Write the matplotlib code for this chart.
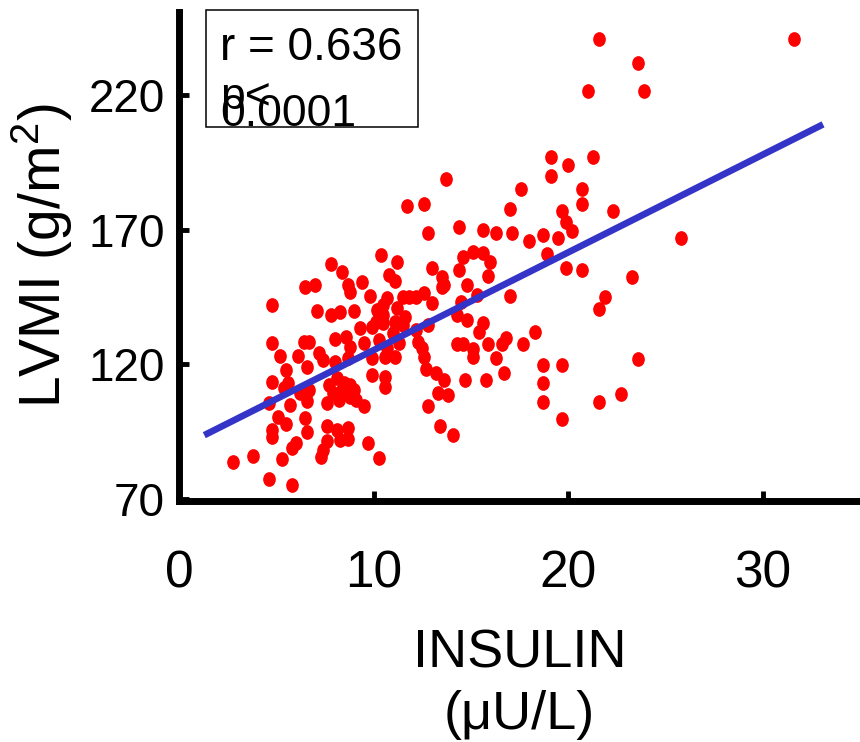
import numpy as np
import matplotlib
matplotlib.use("Agg")
import matplotlib.pyplot as plt
from matplotlib.markers import MarkerStyle
from matplotlib.transforms import Affine2D
from matplotlib.patches import Rectangle

plt.rcParams['font.family'] = ['Liberation Sans', 'DejaVu Sans']
plt.rcParams['mathtext.fontset'] = 'custom'
plt.rcParams['mathtext.rm'] = 'Liberation Sans'
plt.rcParams['mathtext.it'] = 'Liberation Sans:italic'

# ---------------------------------------------------------------
# data
insulin = [21.6, 23.6, 21.0, 23.9, 31.6, 19.1, 20.0, 21.3, 19.1, 17.6,
           20.7, 20.7, 17.0, 19.7, 22.3, 19.9, 20.2, 19.5, 18.7, 18.0,
           18.9, 25.8, 16.3, 17.1, 15.6, 16.0, 15.9, 19.9, 20.7, 23.3,
           21.9, 21.6, 17.0, 15.6, 15.1, 14.6, 13.7, 11.7, 12.6, 12.8,
           14.4, 10.4, 11.2, 7.8, 8.4, 6.5, 7.0, 8.7, 9.4, 10.8,
           11.1, 4.8, 7.1, 7.8, 8.3, 9.0, 9.8, 8.8, 10.2, 10.7,
           11.5, 12.2, 12.6, 13.0, 13.5, 13.6, 14.4, 14.8, 15.3, 14.3,
           14.8, 15.6, 11.8, 10.5, 11.2, 11.6, 10.5, 11.5, 13.0, 14.5,
           13.5, 4.8, 6.4, 6.7, 8.0, 8.6, 9.3, 9.9, 10.5, 8.8,
           9.5, 11.0, 11.3, 5.2, 6.1, 7.2, 7.4, 6.6, 8.0, 8.7,
           9.9, 10.6, 11.1, 5.5, 4.8, 5.4, 5.6, 6.2, 6.7, 7.7,
           8.1, 8.5, 8.8, 9.9, 10.6, 10.6, 4.6, 5.7, 6.6, 7.6,
           8.2, 8.8, 9.1, 9.5, 7.9, 5.1, 5.5, 6.5, 4.8, 6.6,
           4.8, 7.6, 8.1, 8.7, 8.7, 8.3, 7.6, 6.0, 5.8, 7.4,
           7.3, 5.3, 9.7, 10.3, 2.8, 3.8, 4.6, 5.8, 12.8, 15.4,
           12.2, 12.3, 12.5, 12.6, 14.3, 14.6, 15.1, 15.1, 15.9, 16.6,
           16.8, 16.3, 17.7, 18.3, 12.7, 13.2, 13.6, 14.7, 15.8, 16.7,
           18.7, 19.7, 18.7, 18.7, 19.7, 21.6, 22.7, 23.6, 13.3, 13.8,
           12.8, 13.4, 14.1, 9.0, 8.4, 11.1, 10.1, 10.3, 10.7]

lvmi = [241, 232, 221.5, 221.5, 241, 197, 194, 197, 190, 185,
        185, 179.5, 177.6, 177, 177, 173, 169.4, 167, 168, 165.7,
        161, 167, 168.7, 168.7, 169.8, 158, 152.7, 155.7, 155, 152.3,
        145, 140.4, 145.3, 161.3, 161.6, 159.8, 188.8, 178.7, 179.5, 168.7,
        171, 160.5, 158, 157.2, 154.2, 148.6, 149.4, 149.4, 150.5, 153,
        151, 142, 139.7, 138.2, 139.3, 139.7, 145.3, 146.8, 140.1, 144.5,
        145, 145, 146.4, 155.7, 152.3, 149.4, 155, 149.4, 145.6, 138.2,
        136.4, 135.2, 145, 142, 140.8, 137.5, 138.2, 134.5, 142.7, 143,
        148.6, 127.8, 128.2, 128.2, 129.3, 130, 133.4, 133.8, 135.2, 126.3,
        127.8, 131.5, 127.8, 123, 123, 124.1, 121.5, 118.9, 120.7, 122.2,
        122.2, 122.6, 122.6, 117.8, 113.3, 111.1, 112.9, 109.2, 110.3, 112.2,
        114.8, 112.9, 112.2, 115.9, 115.2, 111.4, 105.5, 104.8, 106.2, 105.5,
        106.6, 107.7, 106.6, 104.4, 109.2, 100.3, 97.7, 99.9, 95.5, 94.7,
        92.9, 97, 95.5, 96.2, 92.1, 91.7, 91.4, 90.6, 88.8, 88,
        85.4, 84.7, 90.6, 85.1, 83.6, 85.8, 77.2, 75, 134.5, 131.9,
        132.6, 128.2, 125.9, 122.6, 127.4, 127.4, 125.6, 122.6, 127.4, 127.4,
        129.7, 122.2, 127.4, 131.9, 118.1, 116.7, 114.1, 114.1, 114.1, 116.7,
        119.6, 119.6, 112.9, 105.9, 99.6, 105.9, 108.8, 121.9, 109.2, 108.5,
        104.4, 97, 93.6, 110.3, 110.3, 135.6, 135.6, 129, 126]

# regression line end points
fit_x = [1.3, 33.1]
fit_y = [93.6, 209.2]

xticks = [0, 10, 20, 30]
yticks = [70, 120, 170, 220]

# ---------------------------------------------------------------
fig = plt.figure(figsize=(8.6, 7.42), dpi=100)
ax = fig.add_axes([179/860, 1 - 500.5/742, 681/860, 488.5/742])

dot = MarkerStyle('o', transform=Affine2D().scale(0.86, 1.0))
ax.plot(insulin, lvmi, linestyle='none', marker=dot, markersize=10.6,
        markerfacecolor='#ff0000', markeredgewidth=0, zorder=2)
ax.plot(fit_x, fit_y, color='#3434c8', linewidth=4.8,
        solid_capstyle='butt', zorder=3)

ax.set_xlim(0, 35.0)
ax.set_ylim(69.3, 251)
ax.set_xticks(xticks)
ax.set_yticks(yticks)

for side in ['top', 'right']:
    ax.spines[side].set_visible(False)
for side in ['left', 'bottom']:
    ax.spines[side].set_linewidth(5)

ax.tick_params(axis='x', direction='in', length=7.5, width=3.5,
               labelsize=37, pad=35)
ax.tick_params(axis='y', direction='in', length=7, width=3.5,
               labelsize=33, pad=10)

ax.set_xlabel("INSULIN\n(\u03bcU/L)", fontsize=39, linespacing=1.28,
              labelpad=22)
ax.set_ylabel(r'LVMI (g/m$^2$)', fontsize=41)
ax.yaxis.set_label_coords(-0.153, 0.5)

# stats box
fig.add_artist(Rectangle((206/860, 1 - 127/742), 212/860, 117/742,
                         transform=fig.transFigure, fill=False,
                         edgecolor='black', linewidth=1.1))
fig.text(220/860, 1 - 60/742, "r = 0.636", fontsize=33, va='baseline')
fig.text(220/860, 1 - 109/742, "p<", fontsize=32, va='baseline')
fig.text(220/860, 1 - 126/742, "0.0001", fontsize=32, va='baseline')

fig.savefig("out.png", dpi=100)
